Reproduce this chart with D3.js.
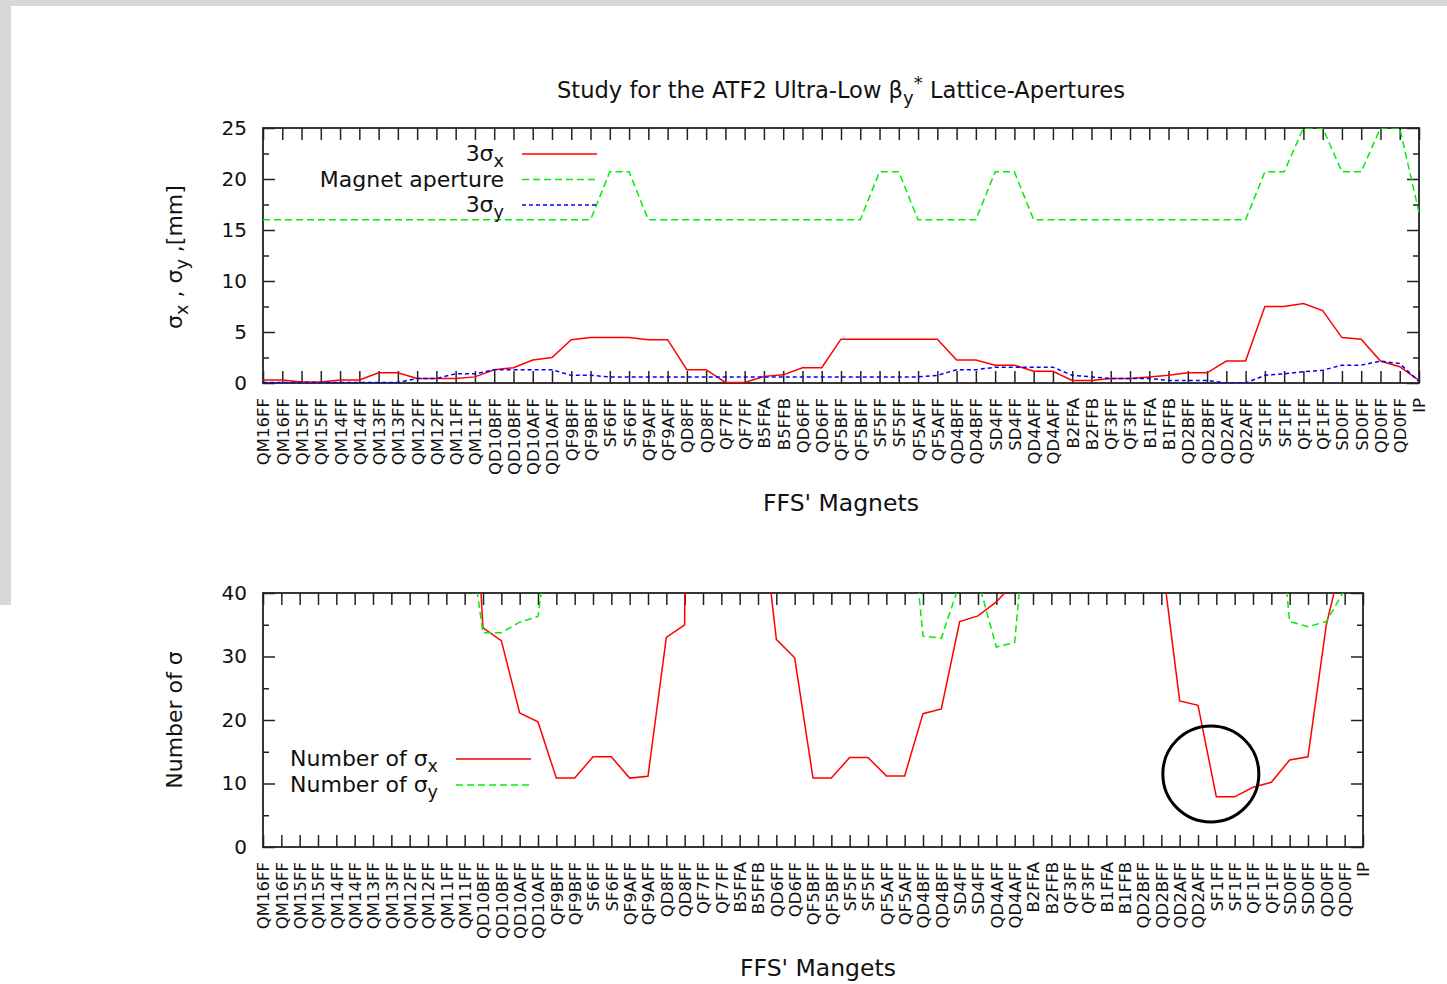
<!DOCTYPE html>
<html>
<head>
<meta charset="utf-8">
<script src="https://cdn.jsdelivr.net/npm/d3@7"></script>
<style>
body { margin: 0; background: #fff; }
svg text { font-family: "DejaVu Sans", "Liberation Sans", Arial, sans-serif; fill: #111; }
</style>
</head>
<body>
<div id="chart"></div>
<script>
// magnet names along the FFS beamline
var magnets = ["QM16FF","QM16FF","QM15FF","QM15FF","QM14FF","QM14FF","QM13FF","QM13FF","QM12FF","QM12FF",
  "QM11FF","QM11FF","QD10BFF","QD10BFF","QD10AFF","QD10AFF","QF9BFF","QF9BFF","SF6FF","SF6FF",
  "QF9AFF","QF9AFF","QD8FF","QD8FF","QF7FF","QF7FF","B5FFA","B5FFB","QD6FF","QD6FF",
  "QF5BFF","QF5BFF","SF5FF","SF5FF","QF5AFF","QF5AFF","QD4BFF","QD4BFF","SD4FF","SD4FF",
  "QD4AFF","QD4AFF","B2FFA","B2FFB","QF3FF","QF3FF","B1FFA","B1FFB","QD2BFF","QD2BFF",
  "QD2AFF","QD2AFF","SF1FF","SF1FF","QF1FF","QF1FF","SD0FF","SD0FF","QD0FF","QD0FF","IP"];

// top panel [mm]
var sigx3 = [0.3,0.3,0.1,0.1,0.3,0.3,1.0,1.0,0.45,0.45,
  0.45,0.6,1.3,1.5,2.25,2.5,4.25,4.45,4.45,4.45,
  4.25,4.25,1.3,1.3,0.05,0.05,0.65,0.8,1.5,1.5,
  4.3,4.3,4.3,4.3,4.3,4.3,2.25,2.25,1.75,1.75,
  1.15,1.15,0.25,0.25,0.45,0.45,0.6,0.75,1.0,1.0,
  2.15,2.15,7.5,7.5,7.8,7.1,4.45,4.3,2.15,1.6,0.25];
var aperture = [16,16,16,16,16,16,16,16,16,16,
  16,16,16,16,16,16,16,16,20.7,20.7,
  16,16,16,16,16,16,16,16,16,16,
  16,16,20.7,20.7,16,16,16,16,20.7,20.7,
  16,16,16,16,16,16,16,16,16,16,
  16,16,20.7,20.7,25,25,20.7,20.7,25,25,16.7];
var sigy3 = [0.05,0.05,0.05,0.05,0.05,0.05,0.05,0.05,0.45,0.45,
  0.9,0.9,1.3,1.3,1.3,1.3,0.75,0.75,0.6,0.6,
  0.6,0.6,0.6,0.6,0.6,0.6,0.6,0.6,0.6,0.6,
  0.6,0.6,0.6,0.6,0.6,0.75,1.3,1.3,1.55,1.55,
  1.55,1.55,0.75,0.6,0.45,0.45,0.45,0.25,0.25,0.25,
  0.0,0.0,0.75,0.9,1.1,1.25,1.75,1.75,2.15,1.9,0.15];

// bottom panel, number of sigma (values above 40 run off the plot)
var nSigx = [160,160,480,480,160,160,48,48,107,107,
  107,85,34.5,32.5,21.1,19.7,10.85,10.85,14.2,14.2,
  10.85,11.15,33,35,900,900,74,58,32.7,29.8,
  10.85,10.85,14.1,14.1,11.2,11.2,21,21.75,35.5,36.4,
  38.6,41.7,190,190,107,107,80,64,48,46,
  23,22.3,7.9,7.9,9.4,10.2,13.7,14.2,35,47,200];
var nSigy = [900,900,900,900,900,900,900,900,107,107,
  53,54,33.75,33.75,35.4,36.3,58,64,100,100,
  80,80,80,80,80,80,80,80,80,80,
  80,80,100,100,80,63,33.2,32.9,41.5,42,
  31.5,32.2,64,80,107,107,107,190,190,190,
  900,900,83,69,68,65,35.5,34.7,35.5,40.5,330];

var topTicks = [0,5,10,15,20,25];
var topMinor = [2.5,7.5,12.5,17.5,22.5];
var botTicks = [0,10,20,30,40];
var botMinor = [5,15,25,35];

// the circled spot in the lower panel (index, number of sigma)
var markIdx = 51.7, markVal = 11.5;

var W = 1447, H = 984;
var svg = d3.select("#chart").append("svg").attr("width", W).attr("height", H);

svg.append("rect").attr("x", 0).attr("y", 0).attr("width", W).attr("height", 6).attr("fill", "#d8d8d8");
svg.append("rect").attr("x", 0).attr("y", 0).attr("width", 11).attr("height", 605).attr("fill", "#d8d8d8");

function richText(sel, parts, size) {
  var t = sel.append("text").style("font-size", size + "px");
  var shift = 0;
  parts.forEach(function (p) {
    var target = p[1] === "sub" ? size * 0.28 : p[1] === "sup" ? -size * 0.42 : 0;
    var ts = t.append("tspan").text(p[0]).attr("dy", target - shift);
    if (p[1] !== "n") ts.style("font-size", (size * 0.8) + "px");
    shift = target;
  });
  return t;
}

function drawPanel(cfg, id) {
  var x = d3.scaleLinear().domain([0, magnets.length - 1]).range([cfg.left, cfg.right]);
  var y = d3.scaleLinear().domain([0, cfg.yMax]).range([cfg.bottom, cfg.top]);
  var g = svg.append("g");

  g.append("clipPath").attr("id", id).append("rect")
    .attr("x", cfg.left).attr("y", cfg.top)
    .attr("width", cfg.right - cfg.left).attr("height", cfg.bottom - cfg.top);

  // bottom x axis with names
  var xb = g.append("g").attr("transform", "translate(0," + cfg.bottom + ")")
    .call(d3.axisBottom(x).tickValues(d3.range(magnets.length)).tickSize(-12).tickSizeOuter(0)
      .tickFormat(function (i) { return magnets[i]; }));
  xb.selectAll("text")
    .attr("transform", "rotate(-90)")
    .attr("x", -15).attr("y", 0).attr("dy", "0.36em")
    .style("text-anchor", "end").style("font-size", "16.5px");
  // mirrored top ticks
  var xt = g.append("g").attr("transform", "translate(0," + cfg.top + ")")
    .call(d3.axisTop(x).tickValues(d3.range(magnets.length)).tickSize(-12).tickSizeOuter(0).tickFormat(""));

  var yl = g.append("g").attr("transform", "translate(" + cfg.left + ",0)")
    .call(d3.axisLeft(y).tickValues(cfg.ticks).tickSize(-12).tickSizeOuter(0));
  yl.selectAll("text").attr("x", -16).style("font-size", "20px");
  var ylm = g.append("g").attr("transform", "translate(" + cfg.left + ",0)")
    .call(d3.axisLeft(y).tickValues(cfg.minor).tickSize(-6).tickSizeOuter(0).tickFormat(""));
  var yr = g.append("g").attr("transform", "translate(" + cfg.right + ",0)")
    .call(d3.axisRight(y).tickValues(cfg.ticks).tickSize(-12).tickSizeOuter(0).tickFormat(""));
  var yrm = g.append("g").attr("transform", "translate(" + cfg.right + ",0)")
    .call(d3.axisRight(y).tickValues(cfg.minor).tickSize(-6).tickSizeOuter(0).tickFormat(""));

  [xb, xt, yl, ylm, yr, yrm].forEach(function (a) {
    a.select(".domain").remove();
    a.selectAll("line").attr("stroke", "#222").attr("stroke-width", 1.5);
  });

  g.append("rect").attr("x", cfg.left).attr("y", cfg.top)
    .attr("width", cfg.right - cfg.left).attr("height", cfg.bottom - cfg.top)
    .attr("fill", "none").attr("stroke", "#222").attr("stroke-width", 1.8);

  var line = d3.line().x(function (d, i) { return x(i); }).y(function (d) { return y(d); });
  var lines = g.append("g").attr("clip-path", "url(#" + id + ")");
  cfg.series.forEach(function (s) {
    lines.append("path").datum(s.values)
      .attr("d", line).attr("fill", "none")
      .attr("stroke", s.color).attr("stroke-width", 1.5)
      .attr("stroke-dasharray", s.dash);
  });

  // legend
  cfg.series.forEach(function (s, k) {
    var ly = cfg.legY + k * cfg.legStep;
    richText(g, s.label, 22).attr("x", cfg.legX).attr("y", ly + 7).style("text-anchor", "end");
    g.append("line").attr("x1", cfg.legX + 18).attr("x2", cfg.legX + 93)
      .attr("y1", ly).attr("y2", ly)
      .attr("stroke", s.color).attr("stroke-width", 1.5).attr("stroke-dasharray", s.dash);
  });

  return { x: x, y: y, g: g };
}

drawPanel({
  left: 263, right: 1419, top: 128, bottom: 383, yMax: 25,
  ticks: topTicks, minor: topMinor, legX: 504, legY: 154, legStep: 25.5,
  series: [
    { values: sigx3, color: "#ff0000", dash: null, label: [["3σ", "n"], ["x", "sub"]] },
    { values: aperture, color: "#00ee00", dash: "7,4", label: [["Magnet aperture", "n"]] },
    { values: sigy3, color: "#0000ff", dash: "4,3", label: [["3σ", "n"], ["y", "sub"]] }
  ]
}, "clipTop");

var bot = drawPanel({
  left: 263, right: 1363, top: 593, bottom: 847, yMax: 40,
  ticks: botTicks, minor: botMinor, legX: 438, legY: 759, legStep: 26,
  series: [
    { values: nSigx, color: "#ff0000", dash: null, label: [["Number of σ", "n"], ["x", "sub"]] },
    { values: nSigy, color: "#00ee00", dash: "7,4", label: [["Number of σ", "n"], ["y", "sub"]] }
  ]
}, "clipBot");

svg.append("circle").attr("cx", bot.x(markIdx)).attr("cy", bot.y(markVal)).attr("r", 48)
  .attr("fill", "none").attr("stroke", "#000").attr("stroke-width", 3);

// titles
richText(svg, [["Study for the ATF2 Ultra-Low β", "n"], ["y", "sub"], ["*", "sup"], [" Lattice-Apertures", "n"]], 22.6)
  .attr("x", 841).attr("y", 98).style("text-anchor", "middle");
svg.append("text").attr("x", 841).attr("y", 511).style("text-anchor", "middle").style("font-size", "23.5px").text("FFS' Magnets");
svg.append("text").attr("x", 818).attr("y", 976).style("text-anchor", "middle").style("font-size", "23.5px").text("FFS' Mangets");

richText(svg, [["σ", "n"], ["x", "sub"], [" , σ", "n"], ["y", "sub"], [" ,[mm]", "n"]], 22)
  .attr("transform", "translate(182,257) rotate(-90)").style("text-anchor", "middle");
svg.append("text").attr("transform", "translate(182,720) rotate(-90)")
  .style("text-anchor", "middle").style("font-size", "22px").text("Number of σ");
</script>
</body>
</html>
